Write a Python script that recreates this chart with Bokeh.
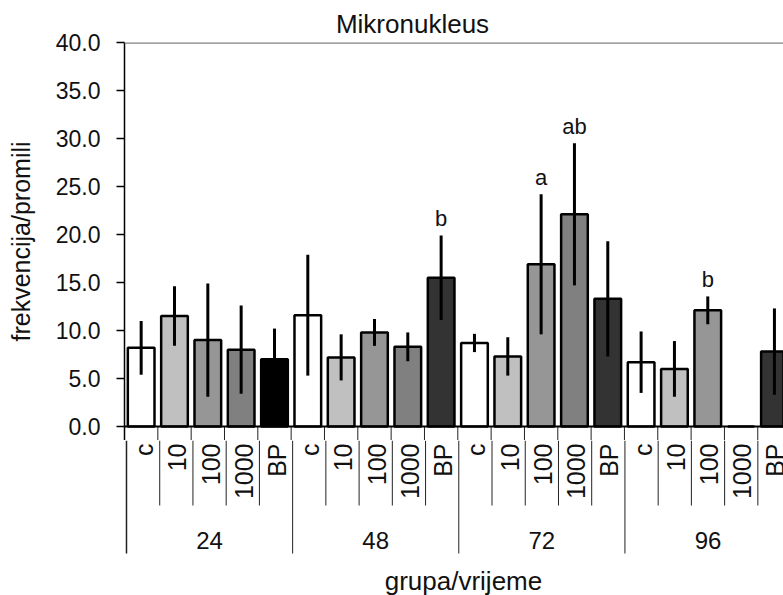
import numpy as np
from bokeh.plotting import figure
from bokeh.layouts import column
from bokeh.models import Range1d, FixedTicker, NumeralTickFormatter, Span, ColumnDataSource
from bokeh.core.properties import value
from bokeh.embed import file_html
from bokeh.resources import INLINE

# ---------------- data ----------------
title_text = "Mikronukleus"
y_label = "frekvencija/promili"
x_label = "grupa/vrijeme"
times = ["24", "48", "72", "96"]
groups = ["c", "10", "100", "1000", "BP"]

mean_24 = [8.2, 11.5, 9.0, 8.0, 7.0]
mean_48 = [11.6, 7.2, 9.8, 8.3, 15.5]
mean_72 = [8.7, 7.3, 16.9, 22.1, 13.3]
mean_96 = [6.7, 6.0, 12.1, 0.0, 7.8]

sd_24 = [2.8, 3.1, 5.9, 4.6, 3.2]
sd_48 = [6.3, 2.4, 1.4, 1.5, 4.4]
sd_72 = [0.95, 2.0, 7.3, 7.4, 6.0]
sd_96 = [3.2, 2.9, 1.45, 0.0, 4.5]

sig_24 = ["", "", "", "", ""]
sig_48 = ["", "", "", "", "b"]
sig_72 = ["", "", "a", "ab", ""]
sig_96 = ["", "", "b", "", ""]

y_ticks = [0, 5, 10, 15, 20, 25, 30, 35, 40]

# ---------------- style ----------------
FONT_NAME = "Liberation Sans"
FONT = value(FONT_NAME)
TXT = "#111111"
SEP = "#222222"
sub_colors = ["#ffffff", "#c0c0c0", "#969696", "#808080", "#333333"]
bp_colors = {"24": "#000000", "48": "#333333", "72": "#333333", "96": "#333333"}

W, H = 783, 595
LEFT, TOP = 124, 42
TOP_H = 440            # height of the bar panel (frame 42..440)
SLOT = 33.33
PX_UNIT = 9.6
y_top = 40.0
x_end = (W - LEFT) / SLOT


def ypix_to_data(py):
    return y_top - (py - TOP) / PX_UNIT


means = [mean_24, mean_48, mean_72, mean_96]
sds = [sd_24, sd_48, sd_72, sd_96]
sigs = [sig_24, sig_48, sig_72, sig_96]

xs, tops, los, his, cols, sg, subl = [], [], [], [], [], [], []
for gi, t in enumerate(times):
    for si, g in enumerate(groups):
        idx = gi * len(groups) + si
        m = means[gi][si]
        s = sds[gi][si]
        xs.append(idx + 0.5)
        tops.append(m)
        los.append(m - s)
        his.append(m + s)
        cols.append(bp_colors[t] if g == "BP" else sub_colors[si])
        sg.append(sigs[gi][si])
        subl.append(g)

src = ColumnDataSource(dict(x=xs, top=tops, lo=los, hi=his, color=cols, sig=sg, sub=subl))

n = len(times) * len(groups)
sub_bottom = ypix_to_data(505)
group_bottom = ypix_to_data(553)

# ================= bar panel =================
p = figure(width=W, height=TOP_H, output_backend="svg", toolbar_location=None,
           x_range=Range1d(0, x_end), y_range=Range1d(ypix_to_data(TOP_H), y_top),
           x_axis_type=None, min_border_left=LEFT, min_border_right=0,
           min_border_top=TOP, min_border_bottom=0)
p.outline_line_color = None
p.xgrid.visible = False
p.ygrid.visible = False
p.background_fill_color = "white"
p.border_fill_color = "white"

# main title
p.title.text = title_text
p.title.align = "left"
p.title.offset = 412 - LEFT - 5.89 * 26 / 2
p.title.text_font = FONT_NAME
p.title.text_font_size = "26px"
p.title.text_font_style = "normal"
p.title.text_color = TXT
p.title.standoff = 8

# y axis
yax = p.yaxis[0]
yax.ticker = FixedTicker(ticks=y_ticks)
yax.formatter = NumeralTickFormatter(format="0.0")
yax.major_tick_out = 8
yax.major_tick_in = 0
yax.minor_tick_line_color = None
yax.axis_line_width = 1.5
yax.axis_line_color = "black"
yax.major_tick_line_color = "black"
yax.major_tick_line_width = 1.5
yax.major_label_standoff = 16
yax.major_label_text_font = FONT_NAME
yax.major_label_text_font_size = "23px"
yax.major_label_text_color = TXT
yax.axis_label = y_label
yax.axis_label_standoff = 18
yax.axis_label_text_font = FONT_NAME
yax.axis_label_text_font_size = "25px"
yax.axis_label_text_font_style = "normal"
yax.axis_label_text_color = TXT

# top border line
p.add_layout(Span(location=40, dimension="width", line_color="#808080", line_width=2.5))

# upper part of the category table separators (below the x axis)
sep_x1 = list(range(1, n))
p.segment(x0=sep_x1, y0=[0] * len(sep_x1), x1=sep_x1, y1=[ypix_to_data(TOP_H)] * len(sep_x1),
          line_color=SEP, line_width=1)

# bars
p.vbar(x="x", top="top", bottom=0, width=0.8, fill_color="color",
       line_color="black", line_width=2.5, source=src)
# error bars
p.segment(x0="x", y0="lo", x1="x", y1="hi", line_color="black", line_width=3, source=src)
# x axis line
p.add_layout(Span(location=0, dimension="width", line_color="black", line_width=2))

# significance letters
p.text(x="x", y="hi", text="sig", text_align="center", text_baseline="bottom",
       y_offset=-4, text_font=FONT, text_font_size="22px", text_color=TXT, source=src)

# ================= category table panel =================
BL = LEFT - 2
q = figure(width=W, height=H - TOP_H, output_backend="svg", toolbar_location=None,
           x_range=Range1d(x_end - (W - BL) / SLOT, x_end),
           y_range=Range1d(ypix_to_data(H), ypix_to_data(TOP_H)),
           x_axis_type=None, y_axis_type=None, min_border_left=BL, min_border_right=0,
           min_border_top=0, min_border_bottom=0)
q.outline_line_color = None
q.xgrid.visible = False
q.ygrid.visible = False
q.background_fill_color = "white"
q.border_fill_color = "white"

sep_x = list(range(0, n))
sep_y1 = [group_bottom if i % len(groups) == 0 else sub_bottom for i in sep_x]
q.segment(x0=sep_x, y0=[ypix_to_data(TOP_H)] * len(sep_x), x1=sep_x, y1=sep_y1,
          line_color=SEP, line_width=[1.5] + [1] * (len(sep_x) - 1))

# sub category labels (rotated)
q.text(x="x", y=ypix_to_data(443), text="sub", angle=np.pi / 2, text_align="right",
       text_baseline="middle", x_offset=1, text_font=FONT, text_font_size="25px",
       text_color=TXT, source=src)

# group labels
gx = [gi * len(groups) + len(groups) / 2 for gi in range(len(times))]
q.text(x=gx, y=[ypix_to_data(540)] * len(times), text=times, text_align="center",
       text_baseline="middle", text_font=FONT, text_font_size="24px", text_color=TXT)

# x axis title
q.text(x=[x_end - (W - 462) / SLOT], y=[ypix_to_data(580)], text=[x_label],
       text_align="center", text_baseline="middle", text_font=FONT,
       text_font_size="26px", text_color=TXT)

layout = column(p, q, spacing=0)
open("out.html", "w").write(file_html(layout, INLINE))
